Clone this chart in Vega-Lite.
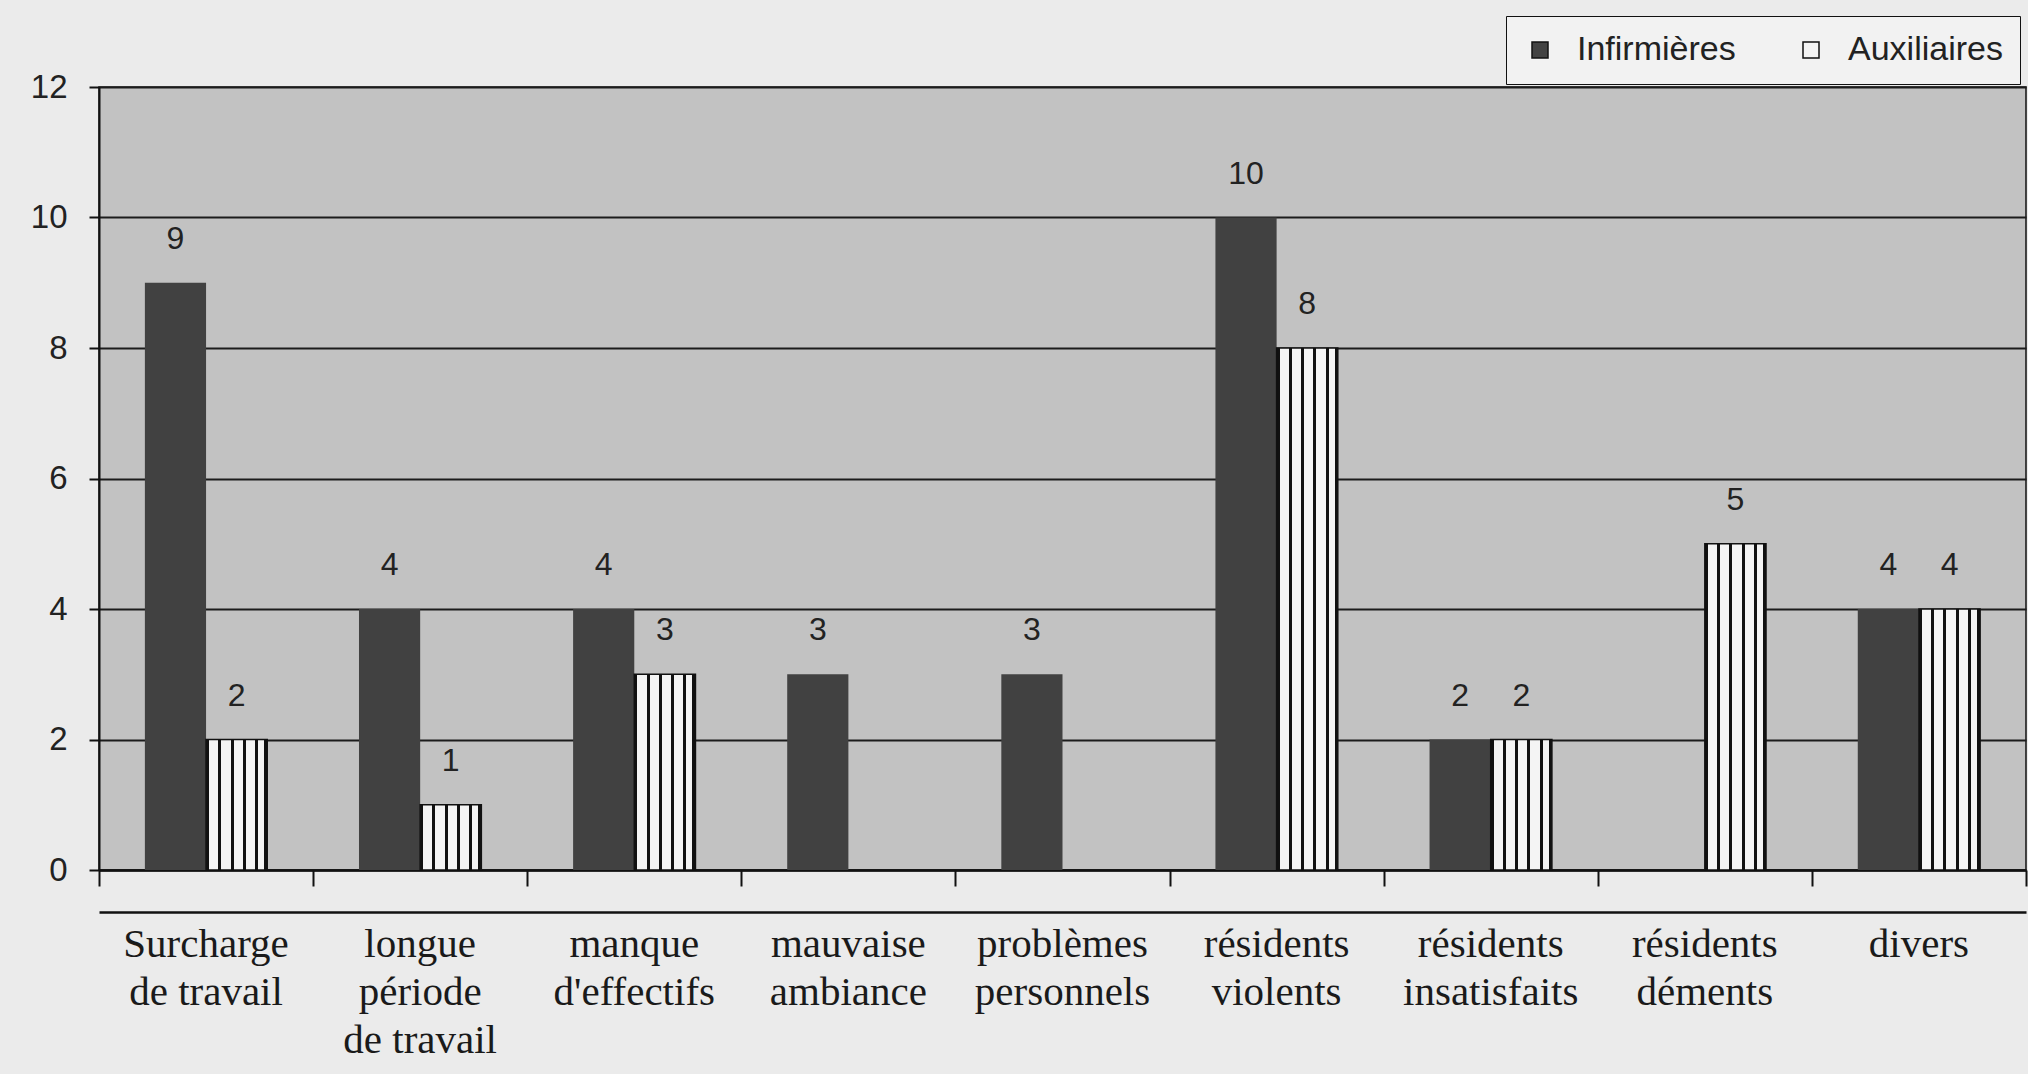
{
  "$schema": "https://vega.github.io/schema/vega-lite/v6.json",
  "width": 1927,
  "height": 783,
  "autosize": {"type": "none"},
  "padding": {"left": 99, "top": 87, "right": 2, "bottom": 204},
  "background": "#ebebeb",
  "view": {"fill": "#c2c2c2", "stroke": "#111111", "strokeWidth": 1.5},
  "data": {
    "values": [
      {"cause": "Surcharge\nde travail", "groupe": "Infirmières", "n": 9},
      {"cause": "Surcharge\nde travail", "groupe": "Auxiliaires", "n": 2},
      {"cause": "longue\npériode\nde travail", "groupe": "Infirmières", "n": 4},
      {"cause": "longue\npériode\nde travail", "groupe": "Auxiliaires", "n": 1},
      {"cause": "manque\nd'effectifs", "groupe": "Infirmières", "n": 4},
      {"cause": "manque\nd'effectifs", "groupe": "Auxiliaires", "n": 3},
      {"cause": "mauvaise\nambiance", "groupe": "Infirmières", "n": 3},
      {"cause": "mauvaise\nambiance", "groupe": "Auxiliaires", "n": 0},
      {"cause": "problèmes\npersonnels", "groupe": "Infirmières", "n": 3},
      {"cause": "problèmes\npersonnels", "groupe": "Auxiliaires", "n": 0},
      {"cause": "résidents\nviolents", "groupe": "Infirmières", "n": 10},
      {"cause": "résidents\nviolents", "groupe": "Auxiliaires", "n": 8},
      {"cause": "résidents\ninsatisfaits", "groupe": "Infirmières", "n": 2},
      {"cause": "résidents\ninsatisfaits", "groupe": "Auxiliaires", "n": 2},
      {"cause": "résidents\ndéments", "groupe": "Infirmières", "n": 0},
      {"cause": "résidents\ndéments", "groupe": "Auxiliaires", "n": 5},
      {"cause": "divers", "groupe": "Infirmières", "n": 4},
      {"cause": "divers", "groupe": "Auxiliaires", "n": 4}
    ]
  },
  "layer": [
    {
      "mark": {"type": "bar", "strokeWidth": 0},
      "encoding": {
        "x": {
          "field": "cause", "type": "nominal", "sort": null,
          "scale": {"paddingInner": 0, "paddingOuter": 0},
          "axis": {
            "orient": "bottom", "title": null, "labels": false, "ticks": true, "tickBand": "extent",
            "tickSize": 16, "tickColor": "#111111", "tickWidth": 2,
            "domain": true, "domainColor": "#111111", "domainWidth": 2.5, "grid": false
          }
        },
        "xOffset": {
          "field": "groupe", "type": "nominal",
          "scale": {"domain": ["Infirmières", "Auxiliaires"], "paddingInner": 0, "paddingOuter": 0.75}
        },
        "y": {
          "field": "n", "type": "quantitative",
          "scale": {"domain": [0, 12], "nice": false},
          "axis": {
            "values": [0, 2, 4, 6, 8, 10, 12], "format": "d", "grid": true, "gridColor": "#1c1c1c", "gridWidth": 2,
            "domainColor": "#111111", "domainWidth": 2, "tickColor": "#111111", "tickSize": 10, "tickWidth": 2,
            "labelFont": "Liberation Sans", "labelFontSize": 33, "labelColor": "#222222", "labelPadding": 22,
            "title": null
          }
        },
        "color": {
          "field": "groupe", "type": "nominal",
          "scale": {"domain": ["Infirmières", "Auxiliaires"], "range": ["#414141", "#f4f4f4"]},
          "legend": {
            "title": null, "orient": "none", "legendX": 1407, "legendY": -71, "direction": "horizontal",
            "strokeColor": "#111111", "fillColor": "#f2f2f2", "padding": 17,
            "symbolType": "square", "symbolSize": 256, "symbolStrokeColor": "#111111", "symbolStrokeWidth": 1.5,
            "labelFont": "Liberation Sans", "labelFontSize": 34, "labelColor": "#222222",
            "labelOffset": 20, "columnPadding": 58, "labelLimit": 0
          }
        }
      }
    },
    {
      "transform": [{"filter": "datum.groupe === 'Auxiliaires' && datum.n > 0"}],
      "mark": {
        "type": "bar", "stroke": "#111111", "strokeWidth": 1.5,
        "fill": {
          "gradient": "linear", "x1": 0, "x2": 1, "y1": 0, "y2": 0,
          "stops": [
            {"offset": 0, "color": "#111111"}, {"offset": 0.05, "color": "#111111"},
            {"offset": 0.05, "color": "#f4f4f4"}, {"offset": 0.2, "color": "#f4f4f4"},
            {"offset": 0.2, "color": "#111111"}, {"offset": 0.25, "color": "#111111"},
            {"offset": 0.25, "color": "#f4f4f4"}, {"offset": 0.4, "color": "#f4f4f4"},
            {"offset": 0.4, "color": "#111111"}, {"offset": 0.45, "color": "#111111"},
            {"offset": 0.45, "color": "#f4f4f4"}, {"offset": 0.6, "color": "#f4f4f4"},
            {"offset": 0.6, "color": "#111111"}, {"offset": 0.65, "color": "#111111"},
            {"offset": 0.65, "color": "#f4f4f4"}, {"offset": 0.8, "color": "#f4f4f4"},
            {"offset": 0.8, "color": "#111111"}, {"offset": 0.85, "color": "#111111"},
            {"offset": 0.85, "color": "#f4f4f4"}, {"offset": 0.95, "color": "#f4f4f4"},
            {"offset": 0.95, "color": "#111111"}, {"offset": 1, "color": "#111111"}
          ]
        }
      },
      "encoding": {
        "x": {"field": "cause", "type": "nominal", "sort": null, "axis": null},
        "xOffset": {"field": "groupe", "type": "nominal", "scale": {"domain": ["Infirmières", "Auxiliaires"]}},
        "y": {"field": "n", "type": "quantitative"}
      }
    },
    {
      "transform": [{"filter": "datum.n > 0"}],
      "mark": {"type": "text", "baseline": "alphabetic", "align": "center", "dy": -34, "font": "Liberation Sans", "fontSize": 32, "color": "#222222"},
      "encoding": {
        "x": {
          "field": "cause", "type": "nominal", "sort": null,
          "axis": {
            "orient": "bottom", "title": null, "offset": 42, "ticks": false, "domain": true, "domainColor": "#111111", "domainWidth": 2.5,
            "grid": false, "labelFont": "Liberation Serif", "labelFontSize": 41, "labelLineHeight": 48,
            "labelColor": "#1a1a1a", "labelPadding": 12, "labelAngle": 0, "labelBaseline": "top",
            "labelExpr": "split(datum.label, '\\n')", "labelLimit": 0, "labelOverlap": false, "labelBound": false
          }
        },
        "xOffset": {"field": "groupe", "type": "nominal", "scale": {"domain": ["Infirmières", "Auxiliaires"]}},
        "y": {"field": "n", "type": "quantitative"},
        "text": {"field": "n", "type": "quantitative"}
      }
    }
  ],
  "resolve": {"axis": {"x": "independent"}}
}
